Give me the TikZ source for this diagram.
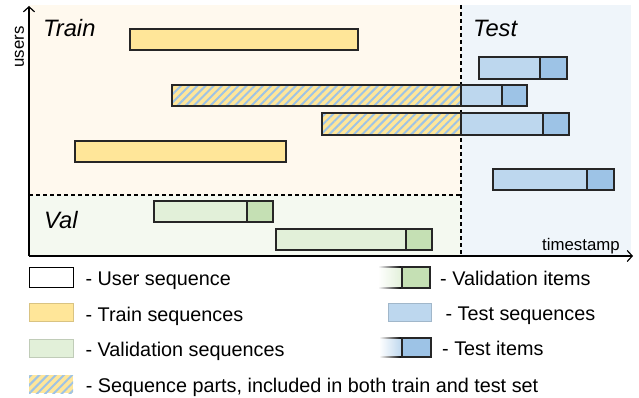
\documentclass[tikz,border=0pt]{standalone}
\usepackage{fontspec}
\setmainfont{Liberation Sans}
\usetikzlibrary{arrows.meta, positioning, patterns.meta}

\definecolor{trainbg}{HTML}{FFF9EE}
\definecolor{valbg}{HTML}{F4F9F0}
\definecolor{testbg}{HTML}{EFF5FA}
\definecolor{trainfill}{HTML}{FFE699}
\definecolor{valfill}{HTML}{E2F0D9}
\definecolor{valitemfill}{HTML}{C5E0B4}
\definecolor{testfill}{HTML}{BDD7EE}
\definecolor{testitemfill}{HTML}{9DC3E6}

\begin{document}
\begin{tikzpicture}[
    x=1pt, y=-1pt,
    seq/.style={draw=black!85, line width=1.3pt},
    trainseq/.style={seq, fill=trainfill},
    valseq/.style={seq, fill=valfill},
    valitem/.style={seq, fill=valitemfill},
    testseq/.style={seq, fill=testfill},
    testitem/.style={seq, fill=testitemfill},
    bothseq/.style={seq, preaction={fill=trainfill}, pattern={Lines[angle=45, distance=5.8pt, line width=2pt]}, pattern color=testitemfill},
    split/.style={line width=1.2pt, dash pattern=on 4pt off 3pt},
    axis/.style={line width=1.2pt, -{Straight Barb[length=5pt, width=11pt]}},
    title/.style={font=\fontsize{23.7}{28}\selectfont\itshape, inner sep=0pt, anchor=base west},
    axlabel/.style={font=\fontsize{16.8}{19}\selectfont, inner sep=0pt},
    legbox/.style={minimum width=44pt, minimum height=18pt, inner sep=0pt, line width=0.8pt},
    legtext/.style={font=\fontsize{19.8}{23}\selectfont, inner sep=0pt, anchor=base west}
]
\useasboundingbox (0,0) rectangle (639,398);

% backgrounds
\fill[trainbg] (29,5) rectangle (461,195);
\fill[valbg] (29,195) rectangle (461,256);
\fill[testbg] (461,5) rectangle (631,256);
\draw[split] (29,195) -- (461,195);
\draw[split] (461,5) -- (461,256);

% train sequences
\draw[trainseq] (130,29) rectangle (358,50);
\draw[bothseq] (172,85) rectangle (461,106);
\draw[bothseq] (322,113) rectangle (461,135);
\draw[trainseq] (75,141) rectangle (286,162);

% validation sequences
\draw[valseq] (154,201) rectangle (247,222);
\draw[valitem] (247,201) rectangle (273,222);
\draw[valseq] (276,229) rectangle (406,250);
\draw[valitem] (406,229) rectangle (432,250);

% test sequences
\draw[testseq] (479,57) rectangle (540,79);
\draw[testitem] (540,57) rectangle (567,79);
\draw[testseq] (461,85) rectangle (502,106);
\draw[testitem] (502,85) rectangle (527,106);
\draw[testseq] (461,113) rectangle (543,135);
\draw[testitem] (543,113) rectangle (569,135);
\draw[testseq] (493,169) rectangle (587,190);
\draw[testitem] (587,169) rectangle (614,190);

% axes
\coordinate (origin) at (29,256);
\coordinate (ytip) at (29,6);
\coordinate (xtip) at (633,256);
\draw[axis] (origin) -- (ytip);
\draw[axis] (origin) -- (xtip);

% labels
\node[title] (train) at (43,37) {Train};
\node[title] (val) at (44,228) {Val};
\node[title] (test) at (473,37) {Test};
\node[axlabel, rotate=90] (users) at (19.5,47) {users};
\node[axlabel, anchor=base west] (time) at (542,250) {timestamp};

% legend, left column
\node[legbox, draw=black, fill=white, minimum height=20pt] (lguser) at (51,277) {};
\node[legtext, right=12pt of lguser.south east, anchor=base west, yshift=2pt] {- User sequence};
\node[legbox, fill=trainfill, draw=trainfill!85!black] (lgtrain) at (51,312) {};
\node[legtext, right=12pt of lgtrain.south east, anchor=base west] {- Train sequences};
\node[legbox, fill=valfill, draw=valfill!85!black] (lgval) at (51,348) {};
\node[legtext, right=12pt of lgval.south east, anchor=base west, yshift=1pt] {- Validation sequences};
\node[legbox, bothseq, draw=none] (lgboth) at (51,384) {};
\node[legtext, right=12pt of lgboth.south east, anchor=base west, yshift=1pt] {- Sequence parts, included in both train and test set};

% legend, right column
\shade[left color=white, right color=valfill] (378,267) rectangle (402,288);
\shade[left color=white, right color=black] (378,266.4) rectangle (402,267.6);
\shade[left color=white, right color=black] (378,287.4) rectangle (402,288.6);
\draw[valitem] (402,267) rectangle (430,288) coordinate (lgvalitem);
\node[legtext, right=10pt of lgvalitem, anchor=base west, yshift=3pt] {- Validation items};
\node[legbox, fill=testfill, draw=testfill!85!black, minimum width=43pt] (lgtest) at (409.5,312) {};
\node[legtext, right=14pt of lgtest.south east, anchor=base west, yshift=1pt] {- Test sequences};
\shade[left color=white, right color=testfill] (379,338) rectangle (402,357);
\shade[left color=white, right color=black] (379,337.4) rectangle (402,338.6);
\shade[left color=white, right color=black] (379,356.4) rectangle (402,357.6);
\draw[testitem] (402,338) rectangle (431,357) coordinate (lgtestitem);
\node[legtext, right=11pt of lgtestitem, anchor=base west, yshift=2pt] {- Test items};
\end{tikzpicture}
\end{document}
